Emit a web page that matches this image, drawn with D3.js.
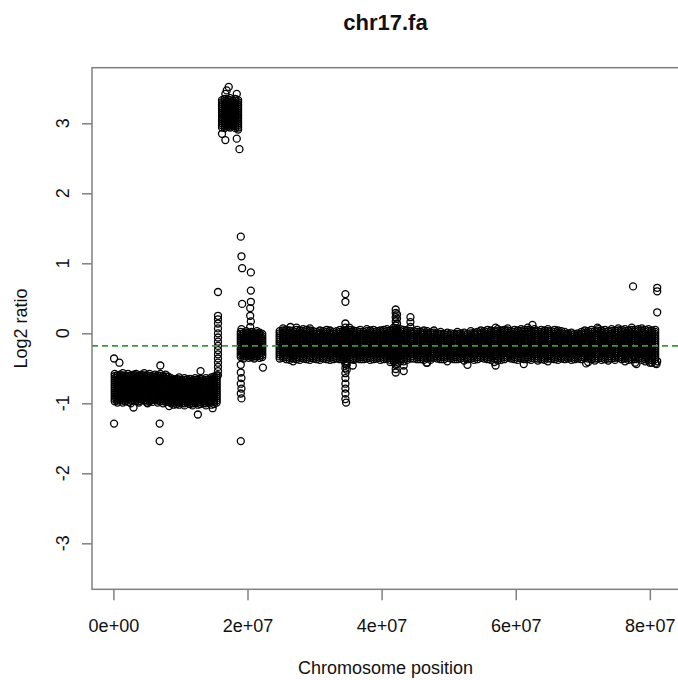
<!DOCTYPE html>
<html><head><meta charset="utf-8">
<script src="https://cdn.jsdelivr.net/npm/d3@7"></script>
<style>body{margin:0;background:#fff}svg{display:block}text{font-family:"Liberation Sans",Arial,Helvetica,sans-serif;fill:#111}</style>
</head><body><svg id="c" width="678" height="680"></svg>
<script>
// ---- data (x in Mb, log2 ratio in hundredths) ----
const title = "chr17.fa";
const xLabel = "Chromosome position";
const yLabel = "Log2 ratio";
const xTickValues = [0, 2e7, 4e7, 6e7, 8e7];
const xTickLabels = ["0e+00", "2e+07", "4e+07", "6e+07", "8e+07"];
const yTickValues = [-3, -2, -1, 0, 1, 2, 3];
const medianLine = -0.18;

const leftBandA = [
"0.2:-58 -61 -64 -67 -70 -73 -76 -79 -82 -85 -88 -91 -94 -97",
"0.6:-60 -63 -66 -69 -72 -75 -78 -81 -84 -87 -90 -93 -96 -99",
"1.0:-59 -62 -65 -68 -71 -74 -77 -80 -83 -86 -89 -92 -95",
"1.4:-57 -60 -63 -66 -69 -72 -75 -78 -81 -84 -87 -90 -93 -96 -99",
"1.8:-61 -64 -67 -70 -73 -76 -79 -82 -85 -88 -91 -94 -97",
"2.2:-58 -61 -64 -67 -70 -73 -76 -79 -82 -85 -88 -91 -94 -98",
"2.6:-60 -63 -66 -69 -72 -75 -78 -81 -84 -87 -90 -93 -96 -100",
"3.0:-59 -62 -65 -68 -71 -74 -77 -80 -83 -86 -89 -92 -95",
"3.4:-58 -60 -63 -66 -69 -72 -75 -78 -81 -84 -87 -90 -93 -96",
"3.8:-61 -64 -67 -70 -73 -76 -79 -82 -85 -88 -91 -94 -97 -99",
"4.2:-59 -62 -65 -68 -71 -74 -77 -80 -83 -86 -89 -92 -95",
"4.6:-57 -60 -63 -66 -69 -72 -75 -78 -81 -84 -87 -90 -93 -96",
"5.0:-60 -63 -66 -69 -72 -75 -78 -81 -84 -87 -90 -93 -96 -99",
"5.4:-58 -61 -64 -67 -70 -73 -76 -79 -82 -85 -88 -91 -94 -97",
"5.8:-62 -65 -68 -71 -74 -77 -80 -83 -86 -89 -92 -95 -98",
"6.2:-59 -62 -65 -68 -71 -74 -77 -80 -83 -86 -89 -92 -95",
"6.6:-60 -63 -66 -69 -72 -75 -78 -81 -84 -87 -90 -93 -96 -99",
"7.0:-58 -61 -64 -67 -70 -73 -76 -79 -82 -85 -88 -91 -94 -97",
"7.4:-61 -64 -67 -70 -73 -76 -79 -82 -85 -88 -91 -94 -97 -100",
"7.8:-59 -62 -65 -68 -71 -74 -77 -80 -83 -86 -89 -92 -95 -98",
"8.2:-62 -65 -68 -71 -74 -77 -80 -83 -86 -89 -92 -95 -98"];

const leftBandB = [
"8.6:-64 -67 -70 -73 -76 -79 -82 -85 -88 -91 -94 -97 -100",
"9.0:-66 -69 -72 -75 -78 -81 -84 -87 -90 -93 -96 -99 -102",
"9.4:-65 -68 -71 -74 -77 -80 -83 -86 -89 -92 -95 -98 -101",
"9.8:-63 -66 -69 -72 -75 -78 -81 -84 -87 -90 -93 -96 -99 -102",
"10.2:-67 -70 -73 -76 -79 -82 -85 -88 -91 -94 -97 -100",
"10.6:-64 -67 -70 -73 -76 -79 -82 -85 -88 -91 -94 -97 -100 -103",
"11.0:-66 -69 -72 -75 -78 -81 -84 -87 -90 -93 -96 -99",
"11.4:-65 -68 -71 -74 -77 -80 -83 -86 -89 -92 -95 -98 -101",
"11.8:-67 -70 -73 -76 -79 -82 -85 -88 -91 -94 -97 -100 -103",
"12.2:-64 -67 -70 -73 -76 -79 -82 -85 -88 -91 -94 -97 -100",
"12.6:-66 -69 -72 -75 -78 -81 -84 -87 -90 -93 -96 -99 -102",
"13.0:-65 -68 -71 -74 -77 -80 -83 -86 -89 -92 -95 -98 -101",
"13.4:-67 -70 -73 -76 -79 -82 -85 -88 -91 -94 -97 -100",
"13.8:-64 -67 -70 -73 -76 -79 -82 -85 -88 -91 -94 -97 -100 -103",
"14.2:-66 -69 -72 -75 -78 -81 -84 -87 -90 -93 -96 -99",
"14.6:-63 -66 -69 -72 -75 -78 -81 -84 -87 -90 -93 -96 -99 -102",
"15.0:-62 -65 -68 -71 -74 -77 -80 -83 -86 -89 -92 -95 -98 -101",
"15.4:-60 -63 -66 -69 -72 -75 -78 -81 -84 -87 -90 -93 -96 -99",
"15.6:59 25 20 14 7 0 -6 -12 -18 -24 -30 -36 -42 -48 -54 -60"];

const spikeBand = [
"16.2:333 330 327 324 321 318 315 312 309 306 303 300 297 294",
"16.6:335 332 329 326 323 320 317 314 311 308 305 302 299 296 293",
"17.0:334 331 328 325 322 319 316 313 310 307 304 301 298 295",
"17.4:336 333 330 327 324 321 318 315 312 309 306 303 300 297 294",
"17.8:332 329 326 323 320 317 314 311 308 305 302 299 296",
"18.2:335 332 329 326 323 320 317 314 311 308 305 302 299 296 293",
"18.6:333 330 327 324 321 318 315 312 309 306 303 300 297 294 291"];

const midBand = [
"19.0:2 -1 -4 -7 -10 -13 -16 -19 -22 -25 -28 -31 -34",
"19.4:0 -3 -6 -9 -12 -15 -18 -21 -24 -27 -30 -33 -36",
"19.8:3 0 -3 -6 -9 -12 -15 -18 -21 -24 -27 -30 -33",
"20.2:1 -2 -5 -8 -11 -14 -17 -20 -23 -26 -29 -32 -35",
"20.6:2 -1 -4 -7 -10 -13 -16 -19 -22 -25 -28 -31 -34",
"21.0:0 -3 -6 -9 -12 -15 -18 -21 -24 -27 -30 -33 -36",
"21.4:3 0 -3 -6 -9 -12 -15 -18 -21 -24 -27 -30 -33",
"21.8:1 -2 -5 -8 -11 -14 -17 -20 -23 -26 -29 -32 -35",
"22.2:-1 -4 -7 -10 -13 -16 -19 -22 -25 -28 -31 -34"];

const mainBand = [
"24.8:3 0 -3 -6 -9 -12 -15 -18 -21 -24 -27 -30 -33 -36",
"25.3:7 4 1 -2 -5 -8 -11 -14 -17 -20 -23 -26 -29 -32 -35",
"25.8:5 2 -1 -4 -7 -10 -13 -16 -19 -22 -25 -28 -31 -34 -37",
"26.3:4 1 -2 -5 -8 -11 -14 -17 -20 -23 -26 -29 -32 -35 -38",
"26.8:3 0 -3 -6 -9 -12 -15 -18 -21 -24 -27 -30 -33 -36 -40",
"27.3:8 5 2 -1 -4 -7 -10 -13 -16 -19 -22 -25 -28 -31 -34 -37",
"27.8:4 1 -2 -5 -8 -11 -14 -17 -20 -23 -26 -29 -32 -35 -38",
"28.3:6 3 0 -3 -6 -9 -12 -15 -18 -21 -24 -27 -30 -33 -36",
"28.8:5 2 -1 -4 -7 -10 -13 -16 -19 -22 -25 -28 -31 -34 -37",
"29.3:4 1 -2 -5 -8 -11 -14 -17 -20 -23 -26 -29 -32 -35 -38",
"29.8:3 0 -3 -6 -9 -12 -15 -18 -21 -24 -27 -30 -33 -36",
"30.3:2 -1 -4 -7 -10 -13 -16 -19 -22 -25 -28 -31 -34 -37",
"30.8:4 1 -2 -5 -8 -11 -14 -17 -20 -23 -26 -29 -32 -35 -38",
"31.3:3 0 -3 -6 -9 -12 -15 -18 -21 -24 -27 -30 -33 -36",
"31.8:5 2 -1 -4 -7 -10 -13 -16 -19 -22 -25 -28 -31 -34 -37",
"32.3:4 1 -2 -5 -8 -11 -14 -17 -20 -23 -26 -29 -32 -35 -38",
"32.8:2 -1 -4 -7 -10 -13 -16 -19 -22 -25 -28 -31 -34 -37",
"33.3:3 0 -3 -6 -9 -12 -15 -18 -21 -24 -27 -30 -33 -36",
"33.8:5 2 -1 -4 -7 -10 -13 -16 -19 -22 -25 -28 -31 -34 -37",
"34.3:4 1 -2 -5 -8 -11 -14 -17 -20 -23 -26 -29 -32 -35 -38",
"34.6:56 45 14 8 3 0 -3 -6 -9 -12 -15 -18 -21 -24 -27 -30 -33 -36 -40 -44 -50 -57 -64 -72 -79 -86 -94",
"34.8:3 0 -3 -6 -9 -12 -15 -18 -21 -24 -27 -30 -33 -36 -40 -45 -52",
"35.3:5 2 -1 -4 -7 -10 -13 -16 -19 -22 -25 -28 -31 -34 -37",
"35.8:4 1 -2 -5 -8 -11 -14 -17 -20 -23 -26 -29 -32 -35 -38",
"36.3:3 0 -3 -6 -9 -12 -15 -18 -21 -24 -27 -30 -33 -36",
"36.8:5 2 -1 -4 -7 -10 -13 -16 -19 -22 -25 -28 -31 -34 -37",
"37.3:2 -1 -4 -7 -10 -13 -16 -19 -22 -25 -28 -31 -34 -37",
"37.8:6 3 0 -3 -6 -9 -12 -15 -18 -21 -24 -27 -30 -33 -36",
"38.3:4 1 -2 -5 -8 -11 -14 -17 -20 -23 -26 -29 -32 -35 -38",
"38.8:5 2 -1 -4 -7 -10 -13 -16 -19 -22 -25 -28 -31 -34 -37",
"39.3:3 0 -3 -6 -9 -12 -15 -18 -21 -24 -27 -30 -33 -36",
"39.8:4 1 -2 -5 -8 -11 -14 -17 -20 -23 -26 -29 -32 -35 -38",
"40.3:5 2 -1 -4 -7 -10 -13 -16 -19 -22 -25 -28 -31 -34 -37",
"40.8:6 3 0 -3 -6 -9 -12 -15 -18 -21 -24 -27 -30 -33 -36",
"41.3:4 1 -2 -5 -8 -11 -14 -17 -20 -23 -26 -29 -32 -35 -38 -41",
"41.8:8 5 2 -1 -4 -7 -10 -13 -16 -19 -22 -25 -28 -31 -34 -37 -40",
"42.1:34 29 23 17 11 6 3 0 -3 -6 -9 -12 -15 -18 -21 -24 -27 -30 -33 -36 -39 -45 -51 -56",
"42.3:27 21 14 7 4 1 -2 -5 -8 -11 -14 -17 -20 -23 -26 -29 -32 -35 -38 -44",
"42.8:6 3 0 -3 -6 -9 -12 -15 -18 -21 -24 -27 -30 -33 -36 -40",
"43.3:5 2 -1 -4 -7 -10 -13 -16 -19 -22 -25 -28 -31 -34 -37 -40 -46 -54",
"43.8:4 1 -2 -5 -8 -11 -14 -17 -20 -23 -26 -29 -32 -35 -38",
"44.3:23 16 9 3 0 -3 -6 -9 -12 -15 -18 -21 -24 -27 -30 -33 -36",
"44.8:3 0 -3 -6 -9 -12 -15 -18 -21 -24 -27 -30 -33 -36",
"45.3:5 2 -1 -4 -7 -10 -13 -16 -19 -22 -25 -28 -31 -34 -37",
"45.8:2 -1 -4 -7 -10 -13 -16 -19 -22 -25 -28 -31 -34 -37",
"46.3:4 1 -2 -5 -8 -11 -14 -17 -20 -23 -26 -29 -32 -35 -38",
"46.8:3 0 -3 -6 -9 -12 -15 -18 -21 -24 -27 -30 -33 -36 -42",
"47.3:1 -2 -5 -8 -11 -14 -17 -20 -23 -26 -29 -32 -35 -38",
"47.8:4 1 -2 -5 -8 -11 -14 -17 -20 -23 -26 -29 -32 -35",
"48.3:0 -3 -6 -9 -12 -15 -18 -21 -24 -27 -30 -33 -36",
"48.8:2 -1 -4 -7 -10 -13 -16 -19 -22 -25 -28 -31 -34 -37",
"49.3:-1 -4 -7 -10 -13 -16 -19 -22 -25 -28 -31 -34 -37",
"49.8:1 -2 -5 -8 -11 -14 -17 -20 -23 -26 -29 -32 -35 -40",
"50.3:0 -3 -6 -9 -12 -15 -18 -21 -24 -27 -30 -33 -36",
"50.8:-1 -4 -7 -10 -13 -16 -19 -22 -25 -28 -31 -34 -37",
"51.3:2 -1 -4 -7 -10 -13 -16 -19 -22 -25 -28 -31 -34 -37",
"51.8:0 -3 -6 -9 -12 -15 -18 -21 -24 -27 -30 -33 -36",
"52.3:1 -2 -5 -8 -11 -14 -17 -20 -23 -26 -29 -32 -35 -39",
"52.8:-1 -4 -7 -10 -13 -16 -19 -22 -25 -28 -31 -34 -37",
"53.3:3 0 -3 -6 -9 -12 -15 -18 -21 -24 -27 -30 -33 -36",
"53.8:1 -2 -5 -8 -11 -14 -17 -20 -23 -26 -29 -32 -35 -38",
"54.3:2 -1 -4 -7 -10 -13 -16 -19 -22 -25 -28 -31 -34 -37",
"54.8:4 1 -2 -5 -8 -11 -14 -17 -20 -23 -26 -29 -32 -35",
"55.3:3 0 -3 -6 -9 -12 -15 -18 -21 -24 -27 -30 -33 -36",
"55.8:5 2 -1 -4 -7 -10 -13 -16 -19 -22 -25 -28 -31 -34 -37",
"56.3:4 1 -2 -5 -8 -11 -14 -17 -20 -23 -26 -29 -32 -35 -38",
"56.8:3 0 -3 -6 -9 -12 -15 -18 -21 -24 -27 -30 -33 -36 -41",
"57.3:6 3 0 -3 -6 -9 -12 -15 -18 -21 -24 -27 -30 -33 -36 -39",
"57.8:4 1 -2 -5 -8 -11 -14 -17 -20 -23 -26 -29 -32 -35 -38",
"58.3:5 2 -1 -4 -7 -10 -13 -16 -19 -22 -25 -28 -31 -34 -37",
"58.8:7 4 1 -2 -5 -8 -11 -14 -17 -20 -23 -26 -29 -32 -35",
"59.3:3 0 -3 -6 -9 -12 -15 -18 -21 -24 -27 -30 -33 -36",
"59.8:5 2 -1 -4 -7 -10 -13 -16 -19 -22 -25 -28 -31 -34 -37",
"60.3:4 1 -2 -5 -8 -11 -14 -17 -20 -23 -26 -29 -32 -35 -38",
"60.8:6 3 0 -3 -6 -9 -12 -15 -18 -21 -24 -27 -30 -33 -36",
"61.3:5 2 -1 -4 -7 -10 -13 -16 -19 -22 -25 -28 -31 -34 -37",
"61.8:8 5 2 -1 -4 -7 -10 -13 -16 -19 -22 -25 -28 -31 -34 -37",
"62.3:4 1 -2 -5 -8 -11 -14 -17 -20 -23 -26 -29 -32 -35 -38",
"62.8:6 3 0 -3 -6 -9 -12 -15 -18 -21 -24 -27 -30 -33 -36",
"63.3:3 0 -3 -6 -9 -12 -15 -18 -21 -24 -27 -30 -33 -36 -39",
"63.8:5 2 -1 -4 -7 -10 -13 -16 -19 -22 -25 -28 -31 -34 -37",
"64.3:4 1 -2 -5 -8 -11 -14 -17 -20 -23 -26 -29 -32 -35 -38",
"64.8:6 3 0 -3 -6 -9 -12 -15 -18 -21 -24 -27 -30 -33 -36 -40",
"65.3:3 0 -3 -6 -9 -12 -15 -18 -21 -24 -27 -30 -33 -36",
"65.8:5 2 -1 -4 -7 -10 -13 -16 -19 -22 -25 -28 -31 -34 -37",
"66.3:4 1 -2 -5 -8 -11 -14 -17 -20 -23 -26 -29 -32 -35 -38",
"66.8:3 0 -3 -6 -9 -12 -15 -18 -21 -24 -27 -30 -33 -36",
"67.3:2 -1 -4 -7 -10 -13 -16 -19 -22 -25 -28 -31 -34 -37",
"67.8:0 -3 -6 -9 -12 -15 -18 -21 -24 -27 -30 -33 -36",
"68.3:1 -2 -5 -8 -11 -14 -17 -20 -23 -26 -29 -32 -35 -38",
"68.8:-1 -4 -7 -10 -13 -16 -19 -22 -25 -28 -31 -34 -37",
"69.3:0 -3 -6 -9 -12 -15 -18 -21 -24 -27 -30 -33 -36",
"69.8:2 -1 -4 -7 -10 -13 -16 -19 -22 -25 -28 -31 -34 -37",
"70.3:4 1 -2 -5 -8 -11 -14 -17 -20 -23 -26 -29 -32 -35",
"70.8:3 0 -3 -6 -9 -12 -15 -18 -21 -24 -27 -30 -33 -36 -41",
"71.3:5 2 -1 -4 -7 -10 -13 -16 -19 -22 -25 -28 -31 -34 -37",
"71.8:3 0 -3 -6 -9 -12 -15 -18 -21 -24 -27 -30 -33 -36 -39",
"72.3:6 3 0 -3 -6 -9 -12 -15 -18 -21 -24 -27 -30 -33 -36",
"72.8:4 1 -2 -5 -8 -11 -14 -17 -20 -23 -26 -29 -32 -35 -38",
"73.3:5 2 -1 -4 -7 -10 -13 -16 -19 -22 -25 -28 -31 -34 -37",
"73.8:3 0 -3 -6 -9 -12 -15 -18 -21 -24 -27 -30 -33 -36 -39",
"74.3:6 3 0 -3 -6 -9 -12 -15 -18 -21 -24 -27 -30 -33 -36",
"74.8:4 1 -2 -5 -8 -11 -14 -17 -20 -23 -26 -29 -32 -35 -38",
"75.3:7 4 1 -2 -5 -8 -11 -14 -17 -20 -23 -26 -29 -32 -35",
"75.8:5 2 -1 -4 -7 -10 -13 -16 -19 -22 -25 -28 -31 -34 -37",
"76.3:6 3 0 -3 -6 -9 -12 -15 -18 -21 -24 -27 -30 -33 -36 -40",
"76.8:4 1 -2 -5 -8 -11 -14 -17 -20 -23 -26 -29 -32 -35 -38",
"77.3:8 5 2 -1 -4 -7 -10 -13 -16 -19 -22 -25 -28 -31 -34 -37",
"77.8:5 2 -1 -4 -7 -10 -13 -16 -19 -22 -25 -28 -31 -34 -37 -42",
"78.3:6 3 0 -3 -6 -9 -12 -15 -18 -21 -24 -27 -30 -33 -36",
"78.8:7 4 1 -2 -5 -8 -11 -14 -17 -20 -23 -26 -29 -32 -35 -38",
"79.3:5 2 -1 -4 -7 -10 -13 -16 -19 -22 -25 -28 -31 -34 -37 -40",
"79.8:6 3 0 -3 -6 -9 -12 -15 -18 -21 -24 -27 -30 -33 -36 -39",
"80.3:4 1 -2 -5 -8 -11 -14 -17 -20 -23 -26 -29 -32 -35 -38 -42",
"80.8:5 2 -1 -4 -7 -10 -13 -16 -19 -22 -25 -28 -31 -34 -37 -43"];

// isolated points [x Mb, log2 ratio in hundredths]
const outliers = [
[0.1,-36],[0.9,-42],[7.0,-46],[13.0,-54],[0.1,-129],[6.9,-129],[6.9,-154],[3.0,-106],[5.1,-100],
[12.6,-116],[14.8,-107],[8.3,-104],
[17.2,352],[16.7,342],[18.4,342],[16.9,347],[16.2,285],[16.7,276],[18.4,278],[18.8,263],
[19.0,138],[19.1,110],[19.2,93],[20.5,87],[20.5,61],[19.2,42],[20.5,45],[20.4,36],[20.4,25],
[20.5,17],[20.4,9],[19.1,6],[19.0,-45],[19.0,-56],[19.1,-64],[19.0,-72],[19.1,-79],[19.0,-86],
[19.1,-93],[19.0,-154],[22.3,-49],
[34.7,-99],[46.7,-42],[57.0,-46],[78.0,-44],[80.0,-42],[52.8,-45],[61.2,-44],[70.5,-43],[35.7,-46],
[35.2,8],[57.0,8],[62.5,12],[72.2,8],[26.4,9],[29.3,7],
[77.5,67],[81.1,65],[81.1,60],[81.1,30],[81.1,-40],[81.0,-44]];

// ---- build points ----
function expand(cols){
  const out=[];
  cols.forEach(s=>{const [xs,ys]=s.split(":");ys.trim().split(/\s+/).forEach(v=>out.push({x:+xs*1e6,y:+v/100}));});
  return out;
}
const points = [].concat(expand(leftBandA),expand(leftBandB),expand(spikeBand),expand(midBand),expand(mainBand),
  outliers.map(d=>({x:d[0]*1e6,y:d[1]/100})));

// ---- layout ----
const svg=d3.select("#c");
const L=92,R=679,T=67.7,B=589.3;
const x=d3.scaleLinear().domain([-3.19e6,84.35e6]).range([L,R]);
const y=d3.scaleLinear().domain([-3.657,3.794]).range([B,T]);
svg.append("rect").attr("width",678).attr("height",680).attr("fill","#fff");

svg.append("g").selectAll("circle").data(points).join("circle")
  .attr("cx",d=>x(d.x)).attr("cy",d=>y(d.y)).attr("r",3.5)
  .attr("fill","none").attr("stroke","#000").attr("stroke-width",1.3);

svg.append("line").attr("x1",L).attr("x2",R).attr("y1",y(medianLine)).attr("y2",y(medianLine))
  .attr("stroke","#3c963c").attr("stroke-width",1.6).attr("stroke-dasharray","6,4");

svg.append("rect").attr("x",L).attr("y",T).attr("width",R-L).attr("height",B-T)
  .attr("fill","none").attr("stroke","#808080").attr("stroke-width",1.5);

const xa=svg.append("g").attr("transform",`translate(0,${B})`)
  .call(d3.axisBottom(x).tickValues(xTickValues).tickSize(11).tickFormat((d,i)=>xTickLabels[i]));
xa.select(".domain").remove();
xa.selectAll("line").attr("stroke","#808080").attr("stroke-width",1.5);
xa.selectAll("text").attr("y",null).attr("dy",null).attr("transform","translate(0,43)")
  .style("font-size","18px").attr("fill","#111");

const ya=svg.append("g").attr("transform",`translate(${L},0)`)
  .call(d3.axisLeft(y).tickValues(yTickValues).tickSize(10).tickFormat(""));
ya.select(".domain").remove();
ya.selectAll("line").attr("stroke","#808080").attr("stroke-width",1.5);
svg.append("g").selectAll("text").data(yTickValues).join("text")
  .attr("transform",d=>`translate(69,${y(d)}) rotate(-90)`).attr("text-anchor","middle")
  .style("font-size","18px").text(d=>d);

svg.append("text").attr("x",(L+R)/2).attr("y",30).attr("text-anchor","middle")
  .style("font-size","22px").style("font-weight","bold").text(title);
svg.append("text").attr("x",(L+R)/2).attr("y",674).attr("text-anchor","middle")
  .style("font-size","18px").text(xLabel);
svg.append("text").attr("transform",`translate(27,${(T+B)/2}) rotate(-90)`).attr("text-anchor","middle")
  .style("font-size","18px").text(yLabel);
</script></body></html>
